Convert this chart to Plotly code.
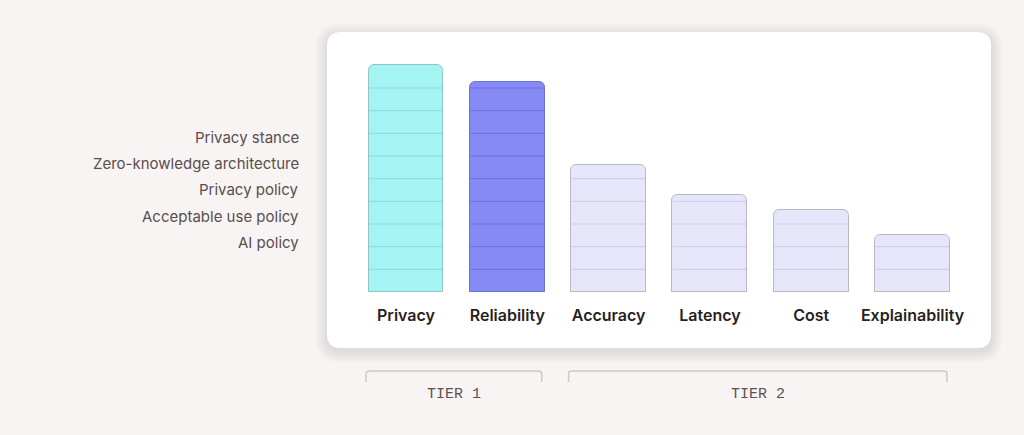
import plotly.graph_objects as go

# ---- data ----
categories = ["Privacy", "Reliability", "Accuracy", "Latency", "Cost", "Explainability"]
scores = [10, 9.25, 5.6, 4.3, 3.6, 2.5]
factors = ["Privacy stance", "Zero-knowledge architecture", "Privacy policy",
           "Acceptable use policy", "AI policy"]
tiers = ["TIER 1", "TIER 2"]
tier_first = [0, 2]
tier_last = [1, 5]

# ---- styles ----
BG = "#f8f4f3"
fills = ["#a3f4f2", "#858af5", "#e6e6fb", "#e6e6fb", "#e6e6fb", "#e6e6fb"]
outlines = ["#93c4c4", "#6d71d2", "#bcb7c3", "#bcb7c3", "#bcb7c3", "#bcb7c3"]
gridcols = ["rgba(40,140,140,0.22)", "rgba(40,40,150,0.25)", "rgba(90,90,140,0.18)",
            "rgba(90,90,140,0.18)", "rgba(90,90,140,0.18)", "rgba(90,90,140,0.18)"]
BAR_W = 0.74
PX_PER_CAT = 101.3

W, H = 1024, 435
T, B = 20, 143
PLOT_BOTTOM = H - B
PLOT_H = H - T - B


def px_x(p):
    return p / W


def px_y(p):
    return (PLOT_BOTTOM - p) / PLOT_H


fig = go.Figure()
xs = list(range(len(categories)))
fig.add_trace(go.Bar(
    x=xs, y=scores, width=BAR_W,
    marker=dict(color=fills, line=dict(color=outlines, width=1), cornerradius=6),
    hoverinfo="x+y", showlegend=False,
))

# horizontal rules inside each bar at every whole unit
for i, v in enumerate(scores):
    gx, gy = [], []
    k = 1
    while k < v - 0.05:
        gx += [i - BAR_W / 2 + 0.005, i + BAR_W / 2 - 0.005, None]
        gy += [k, k, None]
        k += 1
    fig.add_trace(go.Scatter(x=gx, y=gy, mode="lines",
                             line=dict(color=gridcols[i], width=1),
                             hoverinfo="skip", showlegend=False))

shapes = []


def rounded_path(x0, y0, x1, y1, r):
    X = px_x
    Y = px_y
    return (f"M {X(x0 + r)},{Y(y0)} L {X(x1 - r)},{Y(y0)} Q {X(x1)},{Y(y0)} {X(x1)},{Y(y0 + r)} "
            f"L {X(x1)},{Y(y1 - r)} Q {X(x1)},{Y(y1)} {X(x1 - r)},{Y(y1)} "
            f"L {X(x0 + r)},{Y(y1)} Q {X(x0)},{Y(y1)} {X(x0)},{Y(y1 - r)} "
            f"L {X(x0)},{Y(y0 + r)} Q {X(x0)},{Y(y0)} {X(x0 + r)},{Y(y0)} Z")


# card shadow
for s in range(12, 0, -1):
    shapes.append(dict(type="path", xref="paper", yref="paper", layer="below",
                       path=rounded_path(327 - s, 32 - s + 3, 991 + s, 348 + s + 3, 14 + s),
                       fillcolor="rgba(110,95,90,0.010)", line=dict(width=0)))
# card
shapes.append(dict(type="path", xref="paper", yref="paper", layer="below",
                   path=rounded_path(327, 32, 991, 348, 14),
                   fillcolor="#ffffff", line=dict(width=0)))

# tier brackets (rounded top corners)
yb_top = px_y(371)
yb_bot = px_y(382)
rx = 3 / PX_PER_CAT
ry = 3 / PLOT_H
for t, (a, b) in enumerate(zip(tier_first, tier_last)):
    x0 = a - BAR_W / 2 - 0.025
    x1 = b + BAR_W / 2 - 0.03
    shapes.append(dict(type="path", xref="x", yref="paper", layer="above",
                       path=(f"M {x0},{yb_bot} L {x0},{yb_top - ry} Q {x0},{yb_top} {x0 + rx},{yb_top} "
                             f"L {x1 - rx},{yb_top} Q {x1},{yb_top} {x1},{yb_top - ry} L {x1},{yb_bot}"),
                       line=dict(color="#cfc8c6", width=1.5)))

annotations = []
fy = [137, 163, 189, 216, 242]
for f, yy in zip(factors, fy):
    annotations.append(dict(text=f, xref="paper", yref="paper", x=px_x(301), y=px_y(yy),
                            xanchor="right", yanchor="middle", showarrow=False,
                            font=dict(family="Inter", size=15, color="#5a4d4c")))
for t, (a, b) in enumerate(zip(tier_first, tier_last)):
    annotations.append(dict(text=tiers[t], xref="x", yref="paper", x=(a + b) / 2 - 0.03,
                            y=px_y(394.5), xanchor="center", yanchor="middle", showarrow=False,
                            font=dict(family="Liberation Mono", size=15, color="#5b5150")))

x_lo = -406 / PX_PER_CAT
x_hi = (1024 - 406) / PX_PER_CAT

fig.update_layout(
    width=W, height=H,
    margin=dict(l=0, r=0, t=T, b=B),
    paper_bgcolor=BG,
    plot_bgcolor="rgba(0,0,0,0)",
    shapes=shapes,
    annotations=annotations,
    xaxis=dict(range=[x_lo, x_hi], tickvals=xs, ticktext=categories,
               showgrid=False, zeroline=False, showline=False, ticks="",
               ticklabelstandoff=12,
               tickfont=dict(family="Inter", size=16, color="#2a1f1f", weight=600),
               fixedrange=True),
    yaxis=dict(range=[0, 12], visible=False, fixedrange=True),
    bargap=0,
)

fig.write_html(
    "out.html",
    config={"displayModeBar": False},
    post_script="document.body.style.margin='0';document.body.style.overflow='hidden';"
                "document.body.style.background='" + BG + "';",
)
